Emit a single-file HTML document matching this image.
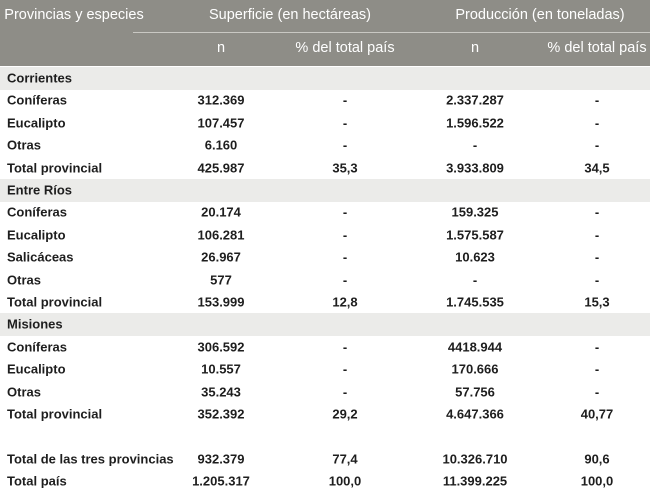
<!DOCTYPE html>
<html><head><meta charset="utf-8">
<style>
body{margin:0;width:650px;height:498px;background:#fff;font-family:"Liberation Sans",sans-serif;overflow:hidden;position:relative}
.hdr{position:absolute;left:0;top:0;width:650px;height:66px;background:#8e8d87}
.hline{position:absolute;left:133px;top:32px;width:517px;height:1px;background:#c9c8c3}
.ht{position:absolute;color:#fff;font-size:14.5px;white-space:nowrap;transform:translateX(-50%)}
.band{position:absolute;left:0;width:650px;height:23px;background:#ebebe9}
.c{position:absolute;font-size:13px;font-weight:bold;color:#1e1e1e;white-space:nowrap;transform:translate(-50%,-50%)}
.l{position:absolute;font-size:13px;font-weight:bold;color:#1e1e1e;white-space:nowrap;transform:translateY(-50%);left:7px}
</style></head><body>
<div class="hdr"></div>
<div class="hline"></div>
<div class="ht" style="left:74px;top:7px">Provincias y especies</div>
<div class="ht" style="left:290px;top:7px">Superficie (en hectáreas)</div>
<div class="ht" style="left:540px;top:7px">Producción (en toneladas)</div>
<div class="ht" style="left:221px;top:40px">n</div>
<div class="ht" style="left:345px;top:40px">% del total país</div>
<div class="ht" style="left:475px;top:40px">n</div>
<div class="ht" style="left:597px;top:40px">% del total país</div>
<div id="rows"></div>
<script>
const labels=["Corrientes","Coníferas","Eucalipto","Otras","Total provincial","Entre Ríos","Coníferas","Eucalipto","Salicáceas","Otras","Total provincial","Misiones","Coníferas","Eucalipto","Otras","Total provincial","","Total de las tres provincias","Total país"];
const supN=["","312.369","107.457","6.160","425.987","","20.174","106.281","26.967","577","153.999","","306.592","10.557","35.243","352.392","","932.379","1.205.317"];
const supP=["","-","-","-","35,3","","-","-","-","-","12,8","","-","-","-","29,2","","77,4","100,0"];
const proN=["","2.337.287","1.596.522","-","3.933.809","","159.325","1.575.587","10.623","-","1.745.535","","4418.944","170.666","57.756","4.647.366","","10.326.710","11.399.225"];
const proP=["","-","-","-","34,5","","-","-","-","-","15,3","","-","-","-","40,77","","90,6","100,0"];
const bands=[0,5,11];
const root=document.getElementById('rows');
const cols=[221,345,475,597];
labels.forEach((lab,i)=>{
  const cy=78+i*22.4;
  if(bands.includes(i)){
    const b=document.createElement('div');b.className='band';b.style.top=(cy-11.5)+'px';
    
    
    root.appendChild(b);
  }
  if(lab){
    const d=document.createElement('div');d.className='l';d.style.top=cy+'px';d.textContent=lab;
    
    
    root.appendChild(d);
  }
  [supN[i],supP[i],proN[i],proP[i]].forEach((v,j)=>{
    if(!v)return;
    const c=document.createElement('div');c.className='c';c.style.left=cols[j]+'px';c.style.top=cy+'px';c.textContent=v;
    
    
    root.appendChild(c);
  });
});
</script>
</body></html>
